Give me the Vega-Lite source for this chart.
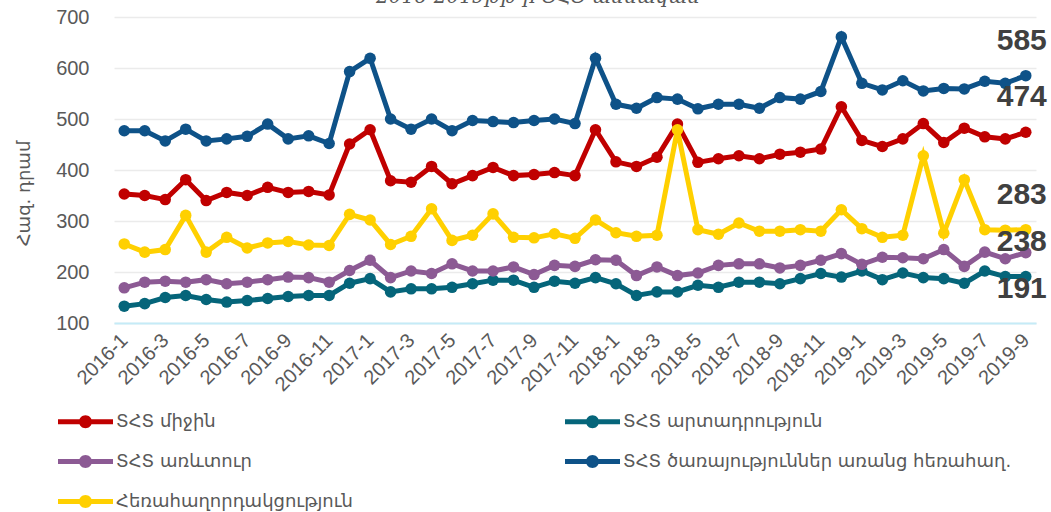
{
  "$schema": "https://vega.github.io/schema/vega-lite/v6.json",
  "width": 922,
  "height": 306,
  "autosize": {"type": "none"},
  "padding": {"left": 114, "top": 17, "right": 15, "bottom": 189},
  "background": "white",
  "title": {
    "text": "2016-2019թթ-ի ՏՀՏ ամսական",
    "font": "DejaVu Serif",
    "fontStyle": "italic",
    "fontWeight": "normal",
    "fontSize": 20,
    "color": "#595959",
    "anchor": "middle",
    "frame": "group",
    "baseline": "alphabetic",
    "offset": 0,
    "dx": -37,
    "dy": 16
  },
  "config": {"view": {"stroke": null}, "font": "Liberation Sans"},
  "data": {
    "values": [
      {"m": "2016-1", "a": 353, "p": 133, "r": 169, "s": 477, "t": 255},
      {"m": "2016-2", "a": 350, "p": 138, "r": 180, "s": 477, "t": 239},
      {"m": "2016-3", "a": 342, "p": 150, "r": 182, "s": 457, "t": 244},
      {"m": "2016-4", "a": 381, "p": 154, "r": 180, "s": 480, "t": 311},
      {"m": "2016-5", "a": 340, "p": 146, "r": 185, "s": 457, "t": 239},
      {"m": "2016-6", "a": 356, "p": 141, "r": 177, "s": 461, "t": 268},
      {"m": "2016-7", "a": 350, "p": 144, "r": 180, "s": 466, "t": 247},
      {"m": "2016-8", "a": 366, "p": 148, "r": 185, "s": 490, "t": 257},
      {"m": "2016-9", "a": 356, "p": 152, "r": 190, "s": 461, "t": 260},
      {"m": "2016-10", "a": 358, "p": 154, "r": 189, "s": 467, "t": 253},
      {"m": "2016-11", "a": 351, "p": 154, "r": 180, "s": 452, "t": 252},
      {"m": "2016-12", "a": 451, "p": 178, "r": 203, "s": 593, "t": 313},
      {"m": "2017-1", "a": 479, "p": 187, "r": 223, "s": 619, "t": 302},
      {"m": "2017-2", "a": 379, "p": 161, "r": 189, "s": 500, "t": 254},
      {"m": "2017-3", "a": 376, "p": 167, "r": 202, "s": 480, "t": 270},
      {"m": "2017-4", "a": 407, "p": 167, "r": 197, "s": 500, "t": 324},
      {"m": "2017-5", "a": 373, "p": 170, "r": 216, "s": 477, "t": 262},
      {"m": "2017-6", "a": 389, "p": 177, "r": 202, "s": 497, "t": 272},
      {"m": "2017-7", "a": 405, "p": 184, "r": 202, "s": 495, "t": 314},
      {"m": "2017-8", "a": 389, "p": 184, "r": 210, "s": 493, "t": 268},
      {"m": "2017-9", "a": 391, "p": 170, "r": 195, "s": 497, "t": 267},
      {"m": "2017-10", "a": 395, "p": 182, "r": 213, "s": 500, "t": 275},
      {"m": "2017-11", "a": 389, "p": 178, "r": 211, "s": 491, "t": 266},
      {"m": "2017-12", "a": 479, "p": 189, "r": 224, "s": 619, "t": 302},
      {"m": "2018-1", "a": 416, "p": 177, "r": 223, "s": 529, "t": 277},
      {"m": "2018-2", "a": 407, "p": 154, "r": 193, "s": 521, "t": 270},
      {"m": "2018-3", "a": 425, "p": 161, "r": 210, "s": 542, "t": 272},
      {"m": "2018-4", "a": 490, "p": 161, "r": 193, "s": 539, "t": 479},
      {"m": "2018-5", "a": 415, "p": 174, "r": 198, "s": 520, "t": 283},
      {"m": "2018-6", "a": 422, "p": 170, "r": 213, "s": 529, "t": 274},
      {"m": "2018-7", "a": 428, "p": 180, "r": 216, "s": 529, "t": 296},
      {"m": "2018-8", "a": 422, "p": 180, "r": 216, "s": 521, "t": 280},
      {"m": "2018-9", "a": 431, "p": 177, "r": 208, "s": 542, "t": 280},
      {"m": "2018-10", "a": 435, "p": 187, "r": 213, "s": 539, "t": 283},
      {"m": "2018-11", "a": 441, "p": 197, "r": 223, "s": 554, "t": 280},
      {"m": "2018-12", "a": 524, "p": 190, "r": 236, "s": 661, "t": 322},
      {"m": "2019-1", "a": 458, "p": 202, "r": 215, "s": 570, "t": 285},
      {"m": "2019-2", "a": 446, "p": 185, "r": 229, "s": 557, "t": 268},
      {"m": "2019-3", "a": 461, "p": 198, "r": 228, "s": 575, "t": 272},
      {"m": "2019-4", "a": 491, "p": 189, "r": 226, "s": 555, "t": 428},
      {"m": "2019-5", "a": 454, "p": 187, "r": 244, "s": 560, "t": 276},
      {"m": "2019-6", "a": 482, "p": 178, "r": 211, "s": 559, "t": 381},
      {"m": "2019-7", "a": 465, "p": 202, "r": 239, "s": 574, "t": 283},
      {"m": "2019-8", "a": 461, "p": 191, "r": 226, "s": 570, "t": 282},
      {"m": "2019-9", "a": 474, "p": 191, "r": 238, "s": 585, "t": 283}
    ]
  },
  "transform": [{"fold": ["a", "p", "r", "s", "t"], "as": ["k", "v"]}],
  "encoding": {
    "x": {
      "field": "m",
      "type": "ordinal",
      "sort": null,
      "scale": {"type": "point", "padding": 0.5},
      "axis": {
        "title": null,
        "values": ["2016-1", "2016-3", "2016-5", "2016-7", "2016-9", "2016-11", "2017-1", "2017-3", "2017-5", "2017-7", "2017-9", "2017-11", "2018-1", "2018-3", "2018-5", "2018-7", "2018-9", "2018-11", "2019-1", "2019-3", "2019-5", "2019-7", "2019-9"],
        "labelAngle": -45,
        "labelAlign": "right",
        "labelBaseline": "middle",
        "labelFontSize": 20,
        "labelColor": "#595959",
        "labelPadding": 14,
        "ticks": false,
        "grid": false,
        "domainColor": "#C5EBF7",
        "domainWidth": 2,
        "labelOverlap": false
      }
    },
    "y": {
      "field": "v",
      "type": "quantitative",
      "scale": {"domain": [100, 700], "nice": false, "zero": false},
      "axis": {
        "values": [100, 200, 300, 400, 500, 600, 700],
        "title": "Հազ. դրամ",
        "titleFont": "DejaVu Sans",
        "titleFontSize": 18,
        "titleFontWeight": "normal",
        "titleColor": "#595959",
        "titlePadding": 22,
        "titleY": 176,
        "labelFontSize": 20,
        "labelColor": "#595959",
        "labelPadding": 25,
        "ticks": false,
        "domain": false,
        "gridColor": "#EBEBEB",
        "gridWidth": 1.5
      }
    },
    "color": {
      "field": "k",
      "type": "nominal",
      "scale": {
        "domain": ["a", "p", "r", "s", "t"],
        "range": ["#C00000", "#05657A", "#8C5A94", "#0E5288", "#FFD000"]
      },
      "legend": {
        "orient": "none",
        "legendX": -56,
        "legendY": 377,
        "direction": "horizontal",
        "columns": 2,
        "title": null,
        "symbolType": "M-1,-0.09H-0.2V0.09H-1Z M0.2,-0.09H1V0.09H0.2Z M-0.236,0A0.236,0.236,0,1,1,0.236,0A0.236,0.236,0,1,1,-0.236,0Z",
        "symbolSize": 3025,
        "symbolStrokeWidth": 0,
        "symbolOpacity": 1,
        "labelFont": "DejaVu Sans",
        "labelFontSize": 18,
        "labelColor": "#595959",
        "labelOffset": 3,
        "rowPadding": 3,
        "columnPadding": 212,
        "labelLimit": 600,
        "labelExpr": "{'a':'ՏՀՏ միջին','p':'ՏՀՏ արտադրություն','r':'ՏՀՏ առևտուր','s':'ՏՀՏ ծառայություններ առանց հեռահաղ.','t':'Հեռահաղորդակցություն'}[datum.label]"
      }
    }
  },
  "layer": [
    {"mark": {"type": "line", "strokeWidth": 5}},
    {"mark": {"type": "point", "filled": true, "size": 133, "opacity": 1}},
    {
      "transform": [{"filter": "datum.m === '2019-9' && (datum.k === 's' || datum.k === 'a' || datum.k === 't')"}],
      "mark": {"type": "text", "dy": -35, "dx": -4, "fontSize": 30, "fontWeight": "bold"},
      "encoding": {"text": {"field": "v"}, "color": {"value": "#404040"}}
    },
    {
      "transform": [{"filter": "datum.m === '2019-9' && datum.k === 'r'"}],
      "mark": {"type": "text", "dy": -11, "dx": -4, "fontSize": 30, "fontWeight": "bold"},
      "encoding": {"text": {"field": "v"}, "color": {"value": "#404040"}}
    },
    {
      "transform": [{"filter": "datum.m === '2019-9' && datum.k === 'p'"}],
      "mark": {"type": "text", "dy": 12, "dx": -4, "fontSize": 30, "fontWeight": "bold"},
      "encoding": {"text": {"field": "v"}, "color": {"value": "#404040"}}
    }
  ]
}
